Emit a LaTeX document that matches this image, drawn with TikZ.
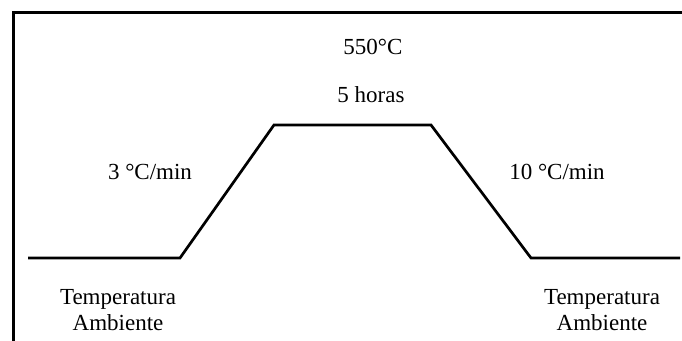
\documentclass[tikz,border=0pt]{standalone}
\usepackage{fontspec}
\setmainfont{Liberation Serif}
\begin{document}
\begin{tikzpicture}[x=0.5pt,y=-0.5pt,
  label/.style={font=\fontsize{11.5}{13}\selectfont, inner sep=0pt, align=center},
  profile/.style={line width=1.35pt, line join=miter},
  frame/.style={line width=1.5pt}]
  \useasboundingbox (0,0) rectangle (682,341);
  \clip (0,0) rectangle (682,341);
  % outer frame, open to the right and bottom
  \draw[frame] (13,360) -- (13,13) -- (700,13);

  % temperature profile
  \coordinate (p0) at (28,258);
  \coordinate (p1) at (180,258);
  \coordinate (p2) at (274,125);
  \coordinate (p3) at (431,125);
  \coordinate (p4) at (531,258);
  \coordinate (p5) at (680,258);
  \draw[profile] (p0) -- (p1) -- (p2) -- (p3) -- (p4) -- (p5);

  % labels
  \node[label] (temp) at (373,47) {550°C};
  \node[label] (time) at (371,95) {5 horas};
  \node[label] (up)   at (150,172) {3 °C/min};
  \node[label] (down) at (557,172) {10 °C/min};
  \node[label] (amb1) at (118,310) {Temperatura\\Ambiente};
  \node[label] (amb2) at (602,310) {Temperatura\\Ambiente};
\end{tikzpicture}
\end{document}
